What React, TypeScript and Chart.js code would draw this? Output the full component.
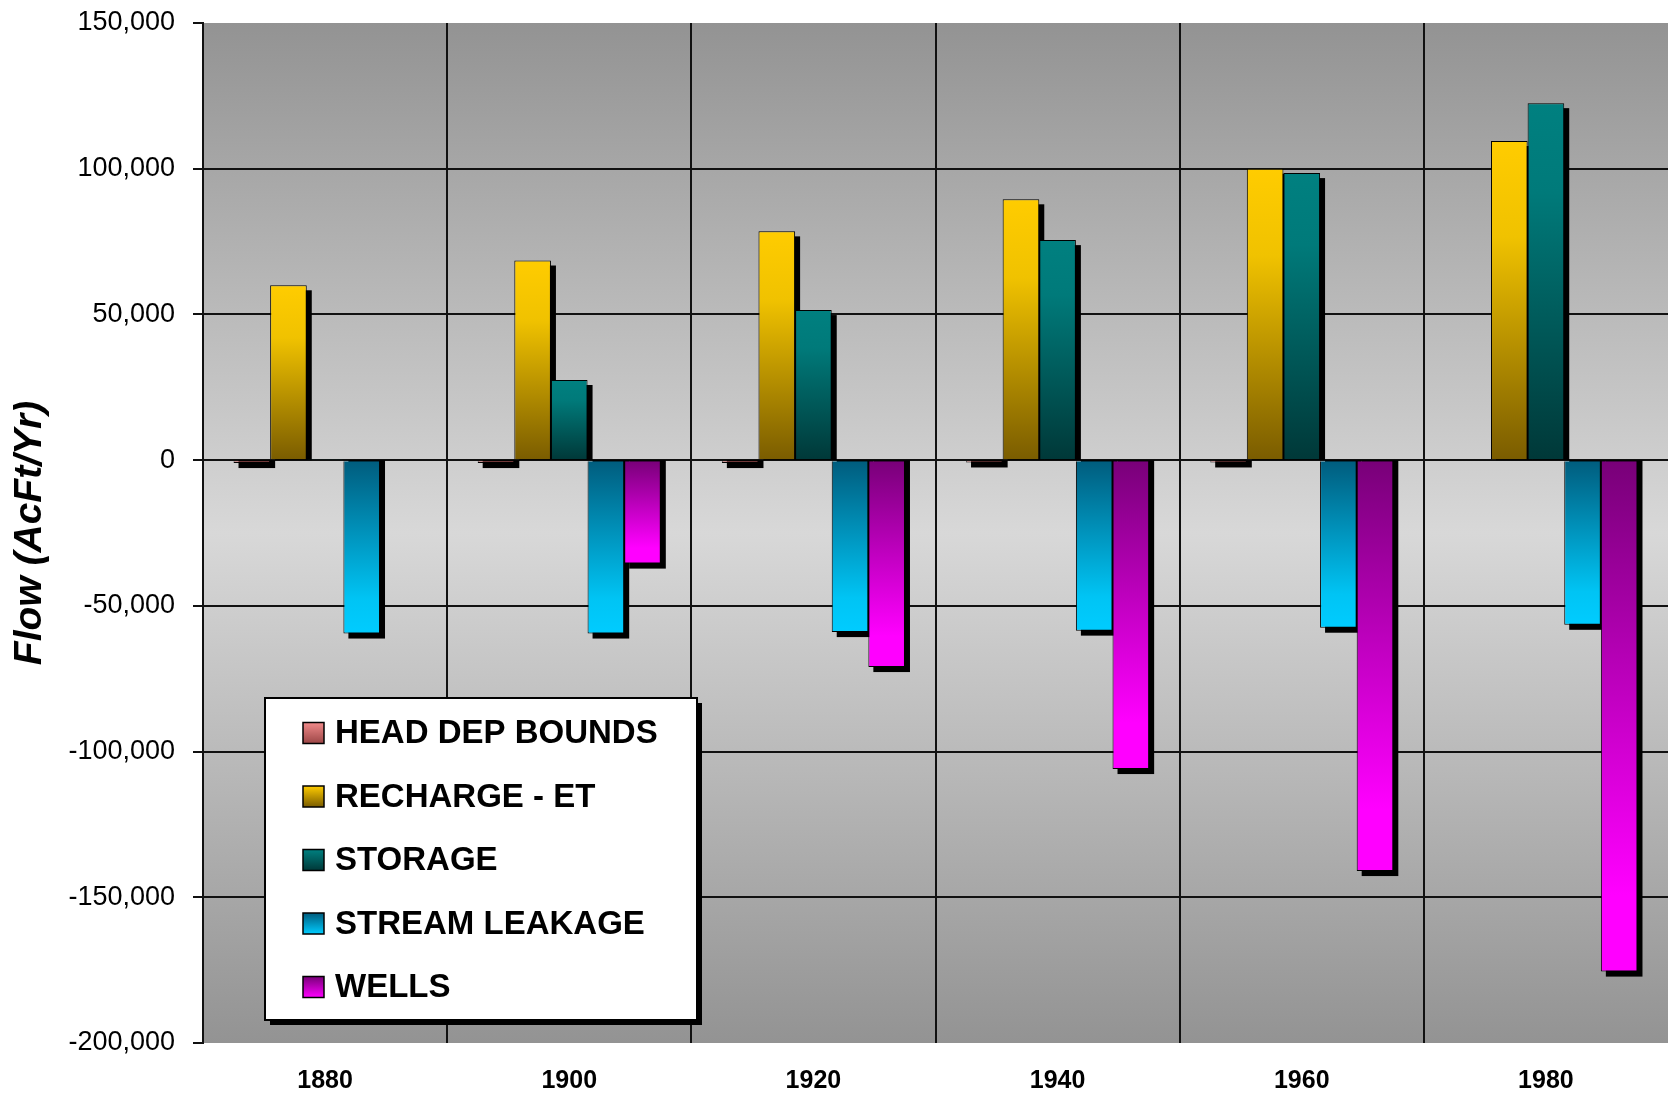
import React, { useEffect, useRef } from 'react';
import { Chart, registerables } from 'chart.js';

Chart.register(...registerables);

const FONT = '"Liberation Sans", Arial, Helvetica, sans-serif';

// ---- data ----
const YEARS = ['1880', '1900', '1920', '1940', '1960', '1980'];
const HEAD_DEP_BOUNDS = [-1000, -1000, -1000, -800, -800, null];
const RECHARGE_ET = [60000, 68500, 78500, 89500, 100000, 109500];
const STORAGE = [400, 27500, 51500, 75500, 98500, 122500];
const STREAM_LEAKAGE = [-59500, -59500, -59000, -58500, -57500, -56500];
const WELLS = [null, -35500, -71000, -106000, -141000, -175500];

const SERIES_NAMES = ['HEAD DEP BOUNDS', 'RECHARGE - ET', 'STORAGE', 'STREAM LEAKAGE', 'WELLS'];
const SERIES_VALUES = [HEAD_DEP_BOUNDS, RECHARGE_ET, STORAGE, STREAM_LEAKAGE, WELLS];

const Y_MIN = -200000;
const Y_MAX = 150000;
const Y_STEP = 50000;

// gradient stops from bar base (0) to bar tip (1)
const BAR_STOPS: [number, string][][] = [
  [[0, '#b85858'], [1, '#d87070']],
  [[0, '#7a5c00'], [0.7, '#f0c200'], [1, '#ffcc00']],
  [[0, '#003838'], [0.75, '#007a7a'], [1, '#008080']],
  [[0, '#005c7d'], [0.8, '#00c4f4'], [1, '#00ccff']],
  [[0, '#780078'], [0.85, '#ff00ff'], [1, '#ff00ff']],
];
// legend swatch stops, top (0) to bottom (1)
const SWATCH_STOPS: [number, string][][] = [
  [[0, '#f08a8a'], [1, '#9c4646']],
  [[0, '#ffcc00'], [1, '#7a5c00']],
  [[0, '#008080'], [1, '#003838']],
  [[0, '#005c7d'], [1, '#00ccff']],
  [[0, '#780078'], [1, '#ff00ff']],
];

const SHADOW = 5;

const backgroundPlugin = {
  id: 'plotBackground',
  beforeDraw(chart: any) {
    const a = chart.chartArea;
    if (!a) return;
    const ctx = chart.ctx;
    const g = ctx.createLinearGradient(0, a.top, 0, a.bottom);
    g.addColorStop(0, '#939393');
    g.addColorStop(0.5, '#d8d8d8');
    g.addColorStop(1, '#939393');
    ctx.save();
    ctx.fillStyle = g;
    ctx.fillRect(a.left, a.top, a.right - a.left, a.bottom - a.top);
    ctx.restore();
  },
};

const shadowPlugin = {
  id: 'barShadow',
  beforeDatasetsDraw(chart: any) {
    const ctx = chart.ctx;
    const base = chart.scales.y.getPixelForValue(0);
    ctx.save();
    ctx.fillStyle = '#000';
    chart.data.datasets.forEach((ds: any, i: number) => {
      const meta = chart.getDatasetMeta(i);
      meta.data.forEach((el: any, j: number) => {
        const v = ds.data[j];
        if (v == null) return;
        const { x, y, width } = el.getProps(['x', 'y', 'width'], true);
        const left = x - width / 2 + SHADOW;
        if (v >= 0) {
          const top = y + SHADOW;
          if (base - top > 0) ctx.fillRect(left, top, width, base - top);
        } else {
          ctx.fillRect(left, base, width, y + SHADOW - base);
        }
      });
    });
    ctx.restore();
  },
};

const legendPlugin = {
  id: 'boxLegend',
  afterDraw(chart: any) {
    const ctx = chart.ctx;
    const L = { x: 265, y: 698, w: 432, h: 322 };
    ctx.save();
    ctx.fillStyle = '#000';
    ctx.fillRect(L.x + SHADOW, L.y + SHADOW, L.w, L.h);
    ctx.fillStyle = '#fff';
    ctx.fillRect(L.x, L.y, L.w, L.h);
    ctx.strokeStyle = '#000';
    ctx.lineWidth = 2;
    ctx.strokeRect(L.x, L.y, L.w, L.h);
    ctx.font = `bold 33px ${FONT}`;
    ctx.textBaseline = 'middle';
    ctx.textAlign = 'left';
    SERIES_NAMES.forEach((name, i) => {
      const cy = 733 + i * 63.5;
      const sx = 303;
      const sy = cy - 10.5;
      const g = ctx.createLinearGradient(0, sy, 0, sy + 21);
      SWATCH_STOPS[i].forEach(([o, c]) => g.addColorStop(o, c));
      ctx.fillStyle = g;
      ctx.fillRect(sx, sy, 21, 21);
      ctx.lineWidth = 1.5;
      ctx.strokeStyle = '#000';
      ctx.strokeRect(sx, sy, 21, 21);
      ctx.fillStyle = '#000';
      ctx.fillText(name, 335, cy + 1);
    });
    ctx.restore();
  },
};

function barFill(i: number) {
  const stops = BAR_STOPS[i];
  return (c: any) => {
    const chart = c.chart;
    const y = chart.scales && chart.scales.y;
    const fallback = stops[stops.length - 1][1];
    if (!chart.chartArea || !y || c.raw == null) return fallback;
    const base = y.getPixelForValue(0);
    const tip = y.getPixelForValue(c.raw as number);
    if (!isFinite(base) || !isFinite(tip) || Math.abs(tip - base) < 1) return fallback;
    const g = chart.ctx.createLinearGradient(0, base, 0, tip);
    stops.forEach(([o, col]) => g.addColorStop(o, col));
    return g;
  };
}

export default function App() {
  const ref = useRef<HTMLCanvasElement>(null);

  useEffect(() => {
    if (!ref.current) return;
    const chart = new Chart(ref.current, {
      type: 'bar',
      data: {
        labels: YEARS,
        datasets: SERIES_NAMES.map((name, i) => ({
          label: name,
          data: SERIES_VALUES[i] as any,
          backgroundColor: barFill(i) as any,
          borderColor: '#000',
          borderWidth: 1,
          categoryPercentage: 0.75,
          barPercentage: 1.0,
        })),
      },
      options: {
        responsive: false,
        animation: false,
        devicePixelRatio: 1,
        layout: { padding: { top: 23, right: 3, bottom: 0, left: 0 } },
        plugins: {
          legend: { display: false },
          tooltip: { enabled: false },
          title: { display: false },
        },
        scales: {
          x: {
            afterFit: (s: any) => {
              s.height = 50;
              s.paddingLeft = 0;
              s.paddingRight = 0;
            },
            grid: {
              offset: true,
              drawTicks: false,
              color: (c: any) => (c.tick === undefined ? 'rgba(0,0,0,0)' : '#111'),
              lineWidth: 2,
            },
            border: { display: false },
            ticks: {
              color: '#000',
              padding: 23,
              font: { family: FONT, size: 25, weight: 'bold' },
            },
          },
          y: {
            min: Y_MIN,
            max: Y_MAX,
            afterFit: (s: any) => {
              s.width = 203;
              s.paddingTop = 0;
              s.paddingBottom = 0;
            },
            grid: {
              color: (c: any) =>
                c.tick && (c.tick.value === Y_MAX || c.tick.value === Y_MIN) ? 'rgba(0,0,0,0)' : '#111',
              tickColor: '#111',
              lineWidth: 2,
              tickLength: 10,
            },
            border: { display: true, color: '#111', width: 2 },
            ticks: {
              stepSize: Y_STEP,
              color: '#000',
              padding: 18,
              font: { family: FONT, size: 27 },
              callback: (v: any) => Number(v).toLocaleString('en-US'),
            },
            title: {
              display: true,
              text: 'Flow (AcFt/Yr)',
              color: '#000',
              padding: { top: 7, bottom: 0 },
              font: { family: FONT, size: 39, weight: 'bold', style: 'italic' },
            },
          },
        },
      },
      plugins: [backgroundPlugin, shadowPlugin, legendPlugin],
    } as any);
    return () => chart.destroy();
  }, []);

  return (
    <div style={{ position: 'absolute', left: 0, top: 0, width: 1671, height: 1093, background: '#fff' }}>
      <canvas ref={ref} width={1671} height={1093} style={{ display: 'block', width: 1671, height: 1093 }} />
    </div>
  );
}
